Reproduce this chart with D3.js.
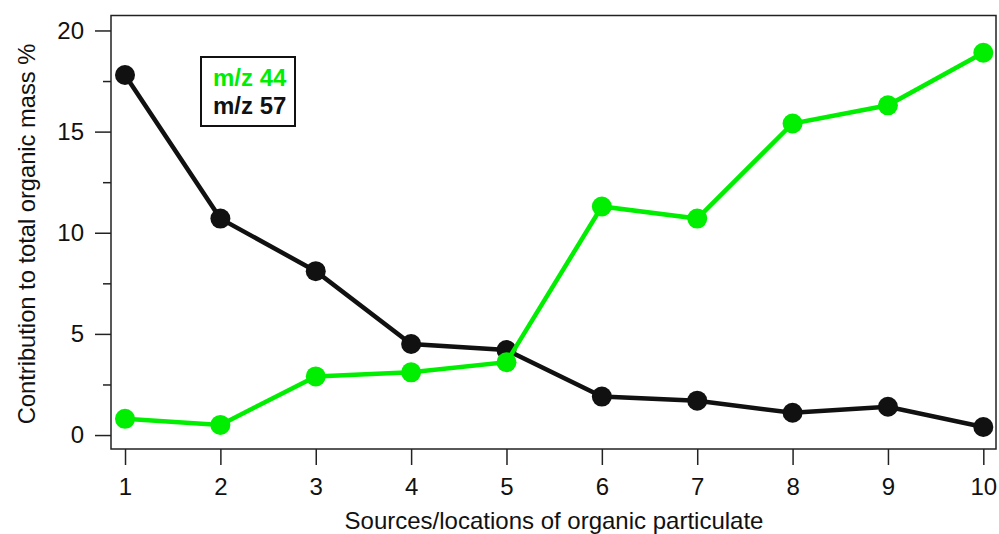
<!DOCTYPE html>
<html><head><meta charset="utf-8">
<script src="https://cdn.jsdelivr.net/npm/d3@7"></script>
<style>body{margin:0;background:#fff}svg{display:block;font-family:"Liberation Sans",Arial,sans-serif}</style>
</head><body>
<svg id="c" width="999" height="534"></svg>
<script>
const categories = [1,2,3,4,5,6,7,8,9,10];
const mz44 = [0.8,0.5,2.9,3.1,3.6,11.3,10.7,15.4,16.3,18.9];
const mz57 = [17.8,10.7,8.1,4.5,4.2,1.9,1.7,1.1,1.4,0.4];
const yTicks = [0,5,10,15,20];
const yMinor = [2.5,7.5,12.5,17.5];
const seriesNames = ["m/z 44","m/z 57"];
const colors = ["#00ee00","#111111"];

const svg = d3.select("#c");
const L=111,R=996,T=15.5,B=449;
const x = d3.scaleLinear().domain([0.853,10.133]).range([L,R]);
const y = d3.scaleLinear().domain([-0.69,20.74]).range([B,T]);

const FONT = "Liberation Sans, Arial, sans-serif";
// axes
const xa = svg.append("g").attr("transform",`translate(0,${B})`)
  .call(d3.axisBottom(x).tickValues(categories).tickSize(16).tickPadding(13).tickFormat(d3.format("d")));
const ya = svg.append("g").attr("transform",`translate(${L},0)`)
  .call(d3.axisLeft(y).tickValues(yTicks).tickSize(16).tickPadding(11));
svg.append("g").attr("transform",`translate(${L},0)`)
  .call(d3.axisLeft(y).tickValues(yMinor).tickSize(8).tickFormat(""))
  .select(".domain").remove();
[xa,ya].forEach(g=>{g.select(".domain").remove(); g.attr("font-size",24).attr("font-family",FONT);});
svg.selectAll(".tick line").attr("stroke","#222").attr("stroke-width",1.5);
svg.selectAll(".tick text").style("font-size","24px").attr("fill","#111");

// frame
svg.append("rect").attr("x",L).attr("y",T).attr("width",R-L).attr("height",B-T)
  .attr("fill","none").attr("stroke","#222").attr("stroke-width",1.5);

// lines
const line = d3.line().x((d,i)=>x(categories[i])).y(d=>y(d));
[mz57,mz44].forEach((s,k)=>{
  const c = k===0?colors[1]:colors[0];
  svg.append("path").datum(s).attr("d",line).attr("fill","none").attr("stroke",c).attr("stroke-width",4.5);
  svg.append("g").selectAll("circle").data(s).join("circle")
    .attr("cx",(d,i)=>x(categories[i])).attr("cy",d=>y(d)).attr("r",10).attr("fill",c);
});

// legend
svg.append("rect").attr("x",201).attr("y",57).attr("width",94).attr("height",69)
  .attr("fill","#fff").attr("stroke","#111").attr("stroke-width",2);
seriesNames.forEach((n,i)=>{
  svg.append("text").attr("x",213).attr("y",86+i*28).style("font-size","24px").attr("font-weight","bold")
    .attr("fill",colors[i]).text(n);
});

// titles
svg.append("text").attr("x",554).attr("y",529).attr("text-anchor","middle").style("font-size","24px").attr("fill","#111")
  .text("Sources/locations of organic particulate");
svg.append("text").attr("transform","translate(35,234) rotate(-90)").attr("text-anchor","middle").style("font-size","23.7px").attr("fill","#111")
  .text("Contribution to total organic mass %");
</script>
</body></html>
